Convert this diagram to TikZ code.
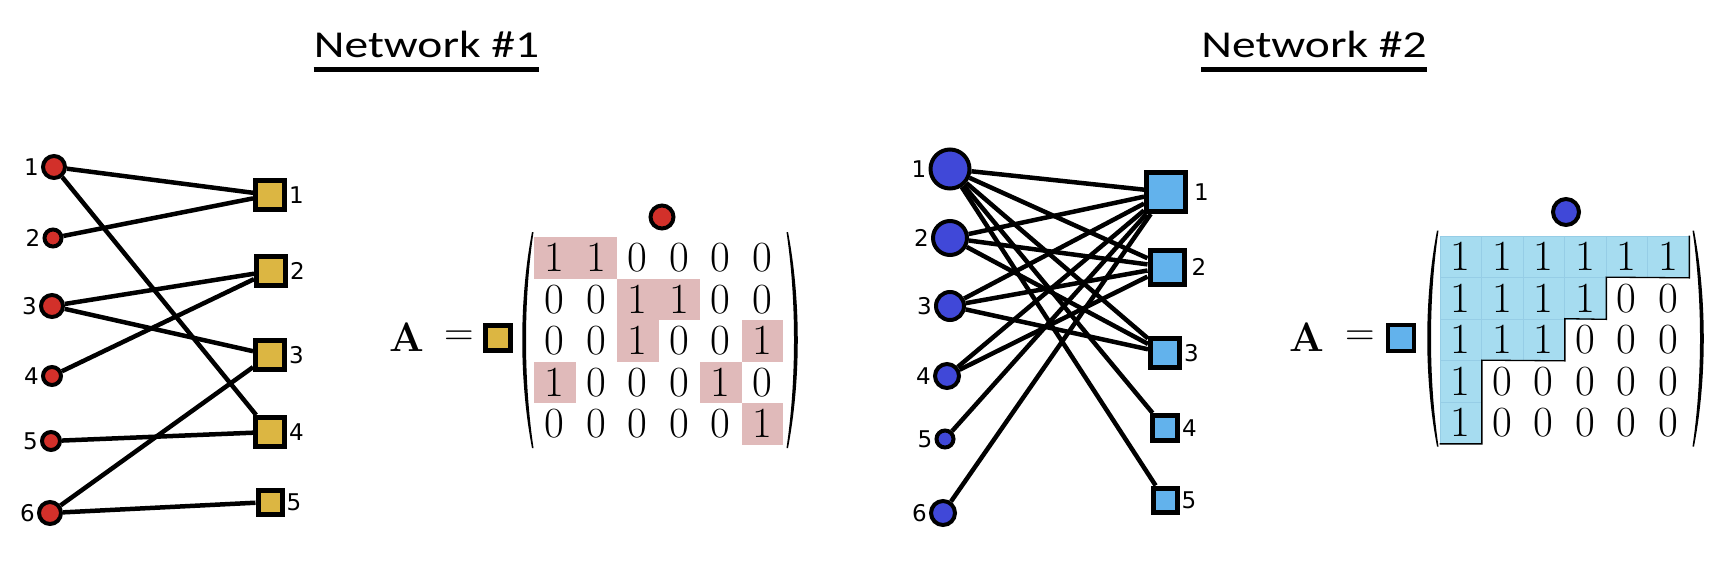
\documentclass[tikz,border=0pt]{standalone}
\usepackage{amsmath}
\usepackage{fontspec}
\usepackage{tikz}
\usetikzlibrary{
    arrows.meta,
    positioning
}
\usepackage{xcolor}
\newfontfamily\titlefont[FakeStretch=1.25]{Carlito}
\newfontfamily\labelfont{DejaVu Sans}
\definecolor{nodered}{HTML}{D2302A}
\definecolor{nodegold}{HTML}{DCB642}
\definecolor{nodeblue}{HTML}{4048D8}
\definecolor{nodesky}{HTML}{62B2EC}
\definecolor{cellred}{HTML}{E0BABA}
\definecolor{cellblue}{HTML}{A6DCF0}
\definecolor{cellline}{HTML}{96CDE6}

\begin{document}
\begin{tikzpicture}[
        x=1pt, y=-1pt,
        circ/.style={
            circle,
            draw,
            line width=4pt,
            inner sep=0pt
        },
        sqr/.style={
            rectangle,
            draw,
            line width=5pt,
            inner sep=0pt
        },
        lbl/.style={
            font=\fontsize{23}{26}\selectfont\labelfont,
            inner sep=0pt
        },
        every label/.style={lbl},
        label distance=2pt,
        edge/.style={line width=4.5pt},
        cell/.style={
            minimum size=41.5pt,
            inner sep=0pt,
            font=\fontsize{43}{50}\selectfont
        },
        big/.style={font=\fontsize{41}{48}\selectfont, inner sep=0pt},
        title/.style={font=\fontsize{38}{44}\selectfont\titlefont, inner sep=0pt},
        bracket/.pic={
            \fill (0,-108) .. controls (-13,-40) and (-13,40) .. (0,108)
                -- (1.5,108) .. controls (-8.5,40) and (-8.5,-40) .. (1.5,-108) -- cycle;
        }
    ]
        \useasboundingbox (0,0) rectangle (1732,562);

        % titles
        \node[title, anchor=base] (t1) at (426.5,57) {Network \#1};
        \node[title, anchor=base] (t2) at (1314,57) {Network \#2};
        \draw[line width=4.5pt] ([yshift=-12.5pt]t1.base west) -- ([yshift=-12.5pt]t1.base east);
        \draw[line width=4.5pt] ([yshift=-12.5pt]t2.base west) -- ([yshift=-12.5pt]t2.base east);

        % network 1
        \node[circ, fill=nodered, minimum size=22pt, label=left:1] (a1) at (54,167) {};
        \node[circ, fill=nodered, minimum size=17pt, label=left:2] (a2) at (53,238) {};
        \node[circ, fill=nodered, minimum size=22pt, label=left:3] (a3) at (52,306) {};
        \node[circ, fill=nodered, minimum size=18pt, label=left:4] (a4) at (52,376) {};
        \node[circ, fill=nodered, minimum size=18pt, label=left:5] (a5) at (51,441) {};
        \node[circ, fill=nodered, minimum size=22pt, label=left:6] (a6) at (50,513) {};
        \node[sqr, fill=nodegold, minimum size=29pt, label=right:1] (b1) at (270,195) {};
        \node[sqr, fill=nodegold, minimum size=29pt, label=right:2] (b2) at (271,271) {};
        \node[sqr, fill=nodegold, minimum size=29pt, label=right:3] (b3) at (270,355) {};
        \node[sqr, fill=nodegold, minimum size=29pt, label=right:4] (b4) at (270,432) {};
        \node[sqr, fill=nodegold, minimum size=24pt, label=right:5] (b5) at (270,502) {};
        \draw[edge] (a1) -- (b1);
        \draw[edge] (a2) -- (b1);
        \draw[edge] (a3) -- (b2);
        \draw[edge] (a4) -- (b2);
        \draw[edge] (a3) -- (b3);
        \draw[edge] (a6) -- (b3);
        \draw[edge] (a1) -- (b4);
        \draw[edge] (a5) -- (b4);
        \draw[edge] (a6) -- (b5);

        % matrix 1
        \node[big] (A1) at (407,337) {\textbf{A}};
        \node[big] (eq1) at (459,338) {=};
        \node[sqr, fill=nodegold, minimum size=25pt, line width=4.5pt] (k1) at (498,338) {};
        \node[circ, fill=nodered, minimum size=23pt] (h1) at (662,217) {};
        \foreach \row [count=\r] in {{1,1,0,0,0,0},{0,0,1,1,0,0},{0,0,1,0,0,1},{1,0,0,0,1,0},{0,0,0,0,0,1}}
            \foreach \v [count=\c] in \row {
                \ifnum\v=1 \def\fillcol{cellred}\else\def\fillcol{none}\fi
                \node[cell, fill=\fillcol] (m1-\r-\c) at ({534+(\c-0.5)*41.5}, {237+(\r-0.5)*41.5}) {\v};
            }
        \pic at (532,340) {bracket};
        \pic[xscale=-1] at (788,340) {bracket};

        % network 2
        \node[circ, fill=nodeblue, minimum size=39pt, label=left:1] (c1) at (950,169) {};
        \node[circ, fill=nodeblue, minimum size=34pt, label=left:2] (c2) at (950,238) {};
        \node[circ, fill=nodeblue, minimum size=28pt, label=left:3] (c3) at (950,306) {};
        \node[circ, fill=nodeblue, minimum size=24pt, label=left:4] (c4) at (947,376) {};
        \node[circ, fill=nodeblue, minimum size=17pt, label=left:5] (c5) at (945,439) {};
        \node[circ, fill=nodeblue, minimum size=24pt, label=left:6] (c6) at (943,513) {};
        \node[sqr, fill=nodesky, minimum size=39pt, label={[label distance=6pt]right:1}] (d1) at (1166,192) {};
        \node[sqr, fill=nodesky, minimum size=34pt, label={[label distance=5pt]right:2}] (d2) at (1167,267) {};
        \node[sqr, fill=nodesky, minimum size=29pt, label=right:3] (d3) at (1165,353) {};
        \node[sqr, fill=nodesky, minimum size=25pt, label=right:4] (d4) at (1165,428) {};
        \node[sqr, fill=nodesky, minimum size=24pt, label=right:5] (d5) at (1165,500) {};
        \foreach \i in {1,...,6}
            \draw[edge] (c\i) -- (d1);
        \foreach \i in {1,...,4}
            \draw[edge] (c\i) -- (d2);
        \foreach \i in {1,...,3}
            \draw[edge] (c\i) -- (d3);
        \draw[edge] (c1) -- (d4);
        \draw[edge] (c1) -- (d5);

        % matrix 2
        \node[big] (A2) at (1307,337) {\textbf{A}};
        \node[big] (eq2) at (1360,338) {=};
        \node[sqr, fill=nodesky, minimum size=26pt, line width=4.5pt] (k2) at (1401,338) {};
        \node[circ, fill=nodeblue, minimum size=26pt] (h2) at (1566,212) {};
        \foreach \row [count=\r] in {{1,1,1,1,1,1},{1,1,1,1,0,0},{1,1,1,0,0,0},{1,0,0,0,0,0},{1,0,0,0,0,0}}
            \foreach \v [count=\c] in \row {
                \ifnum\v=1 \def\fillcol{cellblue}\def\linecol{cellline}\else\def\fillcol{none}\def\linecol{none}\fi
                \node[cell, fill=\fillcol, draw=\linecol, line width=0.7pt] (m2-\r-\c) at ({1440+(\c-0.5)*41.5}, {236+(\r-0.5)*41.5}) {\v};
            }
        \draw[line width=1.3pt] (m2-1-6.north east) -- (m2-1-6.south east) -- (m2-2-4.north east)
            -- (m2-2-4.south east) -- (m2-3-3.north east) -- (m2-3-3.south east)
            -- (m2-4-1.north east) -- (m2-5-1.south east) -- (m2-5-1.south west);
        \pic at (1437,338.5) {bracket};
        \pic[xscale=-1] at (1694,338.5) {bracket};
    \end{tikzpicture}
\end{document}
